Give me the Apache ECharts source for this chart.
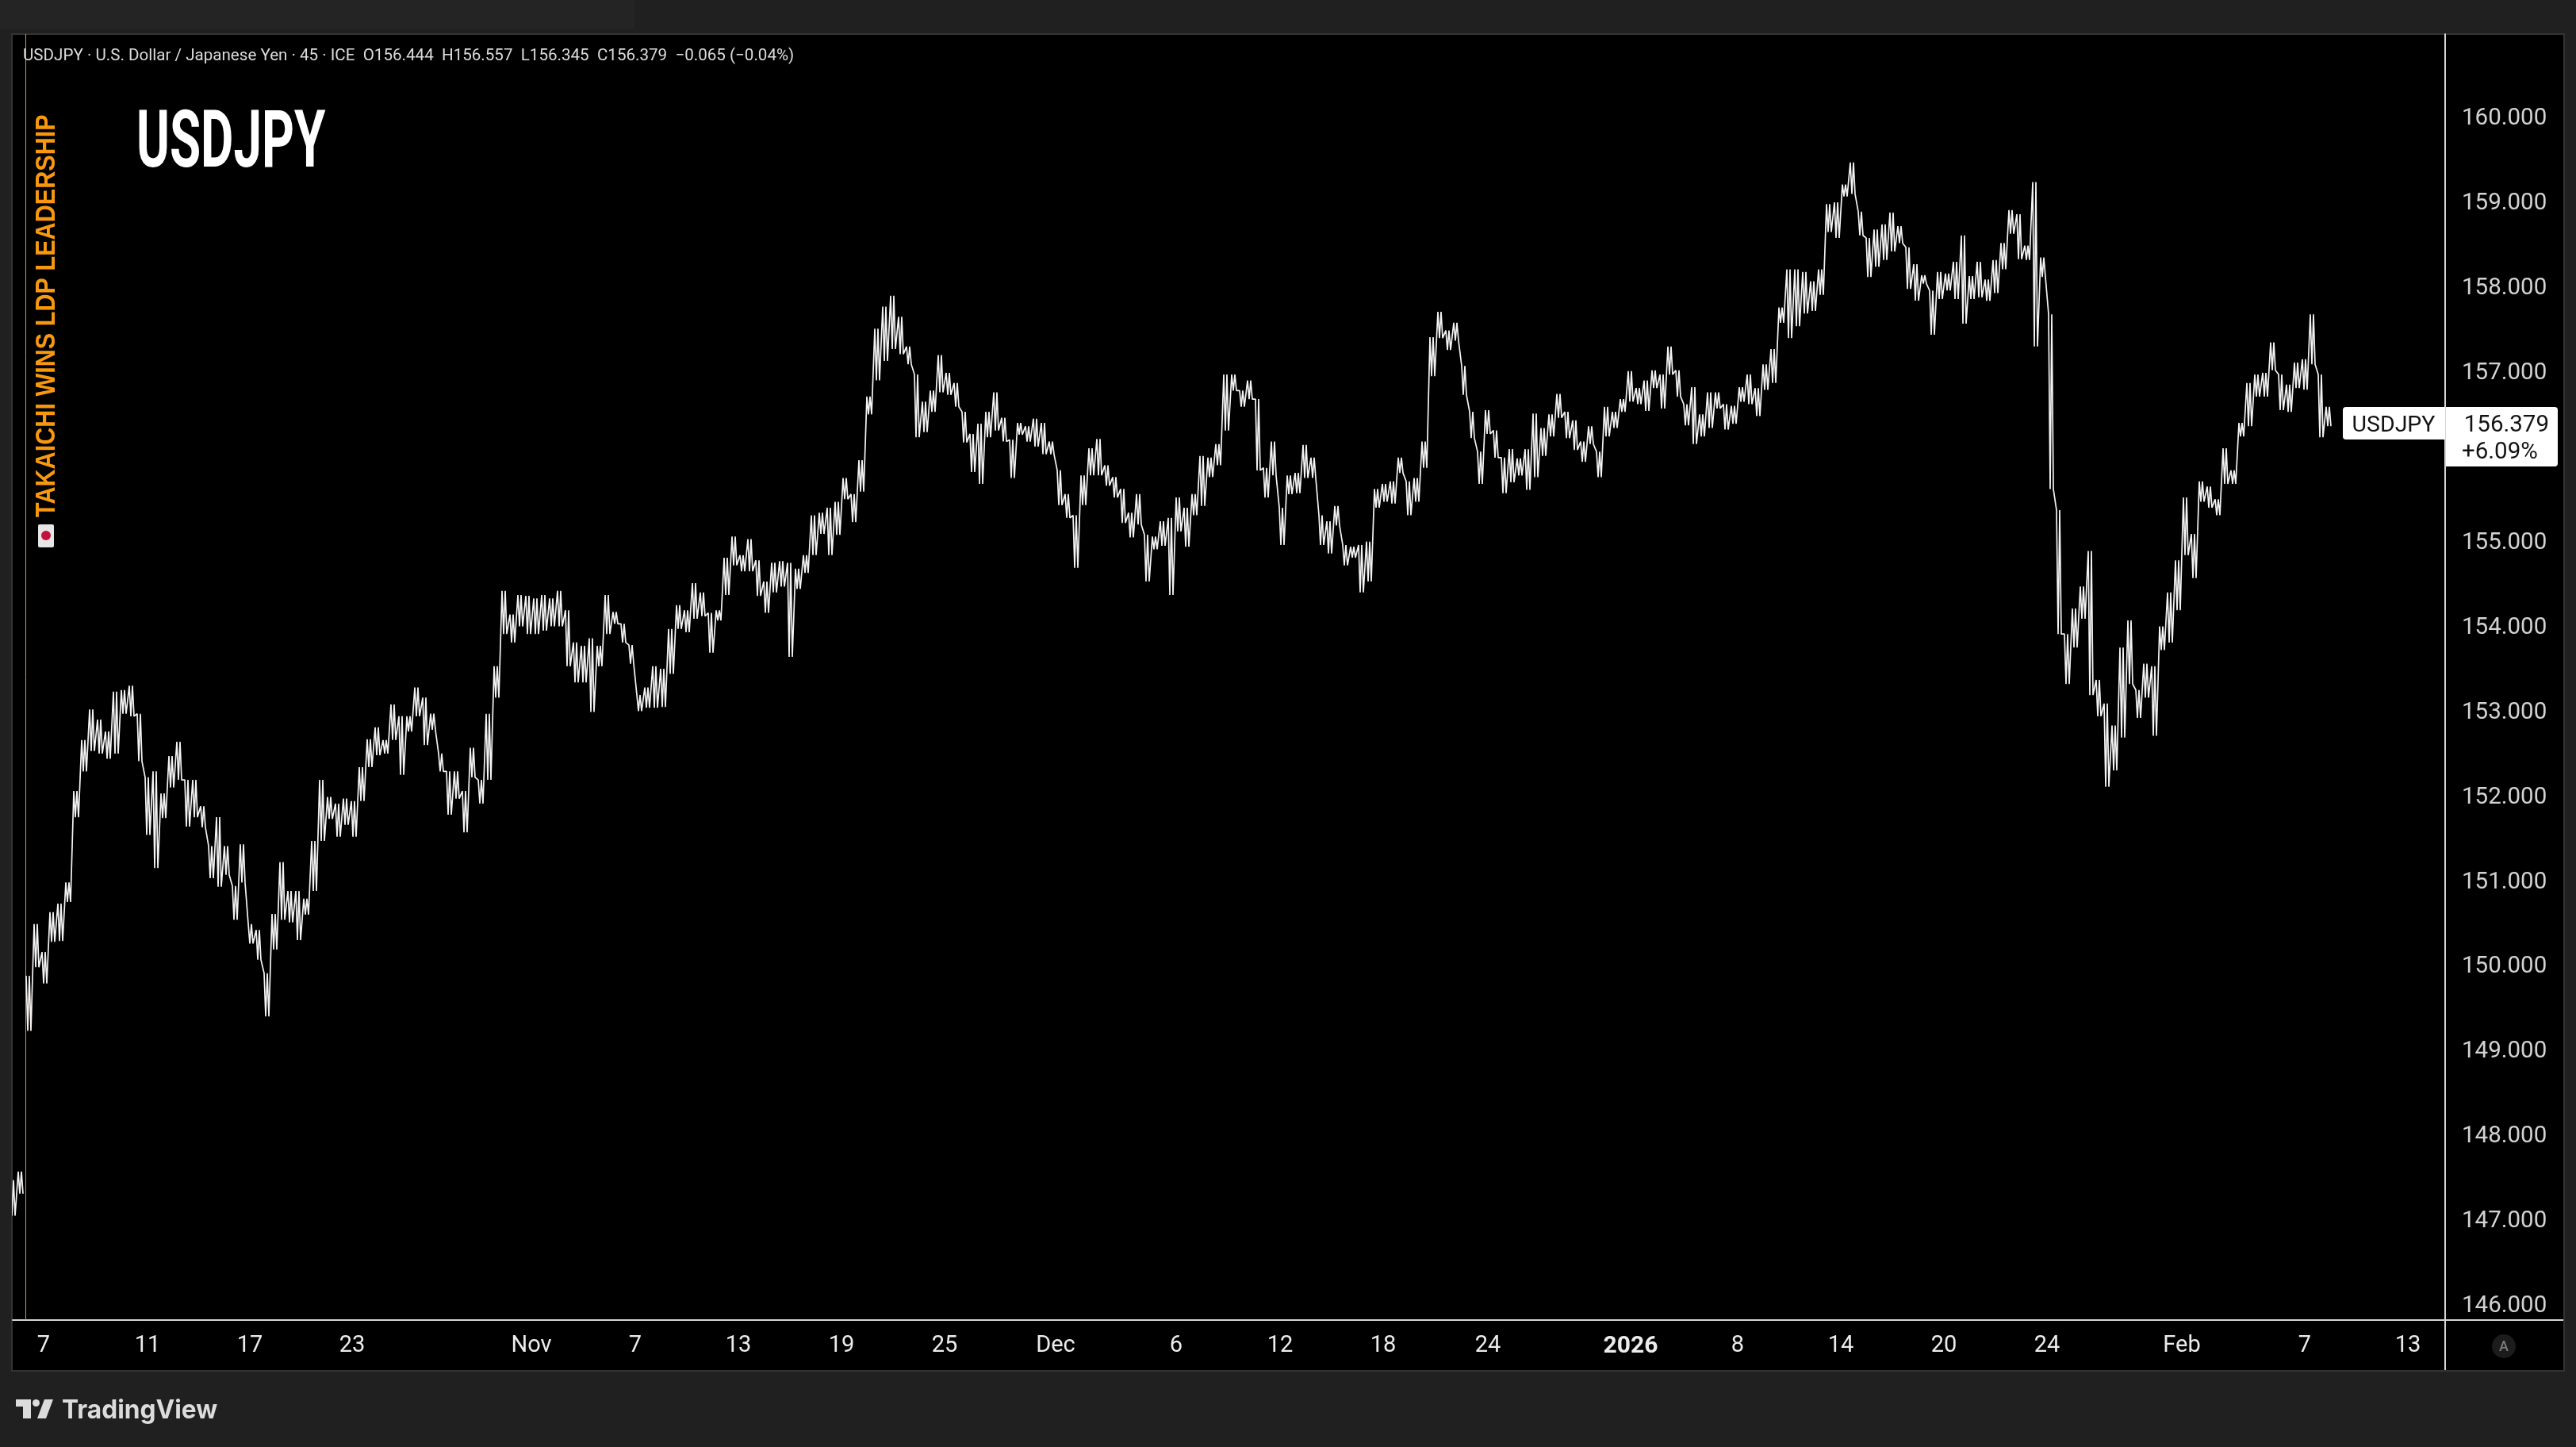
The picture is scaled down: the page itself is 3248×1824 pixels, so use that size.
<!DOCTYPE html>
<html><head><meta charset="utf-8">
<style>html,body{margin:0;padding:0;background:#202020}#c{width:3248px;height:1824px}</style>
<script src="https://cdn.jsdelivr.net/npm/echarts@6/dist/echarts.min.js"></script>
</head><body><div id="c"></div>
<script>
const periodHighs = [147.45,147.55,149.86,150.47,150.14,150.61,150.71,150.96,152.04,152.64,153.00,152.88,152.74,153.21,153.23,153.28,152.95,152.20,152.27,152.01,152.45,152.62,152.17,152.17,151.86,151.39,151.73,151.39,150.92,151.41,150.47,150.40,149.89,150.59,151.20,150.86,150.86,150.77,151.45,152.17,151.97,151.89,151.95,151.92,152.32,152.65,152.79,152.64,153.06,152.92,152.92,153.26,153.14,152.95,152.48,152.27,152.27,152.04,152.55,152.17,152.95,153.51,154.40,154.12,154.35,154.34,154.31,154.35,154.31,154.40,154.17,153.79,153.75,153.84,153.75,154.35,154.15,154.01,153.76,153.17,153.26,153.51,153.48,153.95,154.23,154.17,154.49,154.38,154.14,154.17,154.79,155.04,154.82,155.01,154.76,154.51,154.73,154.75,154.73,154.66,154.82,155.29,155.32,155.38,155.45,155.73,155.54,155.94,156.69,157.49,157.75,157.88,157.63,157.28,156.95,156.63,156.76,157.18,156.97,156.85,156.51,156.25,156.37,156.51,156.74,156.44,156.18,156.38,156.34,156.43,156.38,156.16,155.82,155.54,155.29,155.76,156.08,156.19,155.88,155.74,155.60,155.32,155.54,155.06,155.04,155.22,155.26,155.50,155.38,155.54,155.99,155.97,156.13,156.95,156.95,156.76,156.88,156.66,155.85,156.16,155.38,155.76,155.79,156.12,155.97,155.29,155.22,155.40,154.94,154.92,154.94,154.98,155.60,155.66,155.69,155.97,155.69,155.73,156.16,157.39,157.69,157.47,157.56,157.05,156.51,156.04,156.53,156.29,155.97,156.07,155.96,156.07,156.49,156.32,156.48,156.72,156.51,156.41,156.16,156.34,156.04,156.57,156.51,156.66,156.99,156.79,156.88,157.00,156.95,157.28,157.00,156.60,156.80,156.48,156.74,156.74,156.60,156.58,156.80,156.95,156.79,157.07,157.25,157.74,158.19,158.19,158.16,158.05,158.19,158.96,158.98,159.19,159.45,158.87,158.56,158.66,158.72,158.86,158.70,158.45,158.25,158.12,157.94,158.16,158.14,158.28,158.59,158.11,158.28,158.07,158.30,158.50,158.89,158.84,158.47,159.22,158.33,157.66,155.35,153.89,154.19,154.45,154.87,153.35,153.07,152.81,153.73,154.05,153.23,153.54,153.51,153.98,154.38,154.76,155.50,155.07,155.69,155.63,155.48,156.08,155.82,156.38,156.85,156.95,156.97,157.33,156.95,156.83,157.09,157.13,157.66,156.95,156.57];
const periodLows = [147.03,147.29,149.21,149.96,149.77,150.26,150.27,150.73,151.73,152.27,152.51,152.48,152.42,152.48,152.95,152.92,152.39,151.52,151.13,151.72,152.08,152.17,151.62,151.73,151.61,151.01,150.91,151.05,150.52,150.96,150.24,150.05,149.38,150.17,150.52,150.49,150.28,150.58,150.86,151.45,151.71,151.50,151.64,151.50,151.92,152.32,152.46,152.48,152.64,152.23,152.74,152.92,152.58,152.76,152.27,151.76,151.95,151.55,152.20,151.89,152.17,153.14,153.89,153.79,153.98,153.89,153.89,153.93,153.98,153.98,153.51,153.32,153.32,152.97,153.51,153.89,154.01,153.79,153.54,152.98,153.02,153.02,153.03,153.42,153.95,153.91,154.07,154.10,153.67,154.05,154.35,154.70,154.63,154.63,154.34,154.14,154.38,154.45,153.62,154.42,154.61,154.82,155.07,154.82,155.06,155.48,155.21,155.57,156.48,156.88,157.11,157.25,157.19,157.07,156.21,156.27,156.51,156.74,156.71,156.57,156.15,155.80,155.66,156.21,156.29,156.16,155.73,156.24,156.16,156.10,156.01,156.01,155.41,155.26,154.67,155.41,155.76,155.76,155.64,155.50,155.20,155.03,155.18,154.51,154.89,154.93,154.35,155.10,154.92,155.29,155.40,155.74,155.88,156.29,156.76,156.57,156.66,155.82,155.50,155.76,154.94,155.54,155.55,155.73,155.73,154.94,154.84,155.17,154.70,154.79,154.38,154.51,155.38,155.45,155.43,155.79,155.29,155.45,155.85,156.93,157.38,157.24,157.35,156.71,156.20,155.66,156.25,155.97,155.55,155.68,155.76,155.59,155.74,155.99,156.22,156.44,156.20,156.06,155.92,156.13,155.74,156.22,156.32,156.51,156.63,156.60,156.52,156.79,156.55,156.95,156.69,156.35,156.13,156.22,156.32,156.55,156.30,156.37,156.63,156.60,156.46,156.77,156.85,157.56,157.38,157.52,157.67,157.70,157.89,158.63,158.56,159.05,159.08,158.59,158.10,158.22,158.30,158.40,158.50,157.96,157.82,158.02,157.42,157.84,157.94,157.84,157.55,157.84,157.86,157.82,157.91,158.19,158.61,158.31,158.30,157.28,158.10,155.60,153.89,153.30,153.73,154.07,153.17,152.92,152.09,152.28,152.67,153.30,152.90,153.14,152.69,153.70,153.79,154.17,154.82,154.55,155.45,155.38,155.29,155.66,155.66,156.22,156.34,156.69,156.69,157.00,156.53,156.51,156.79,156.77,157.07,156.21,156.34];
const gapAfterPeriod = [1];
const priceTicks = [146,147,148,149,150,151,152,153,154,155,156,157,158,159,160];
const timeLabels = ['7','11','17','23','Nov','7','13','19','25','Dec','6','12','18','24','2026','8','14','20','24','Feb','7','13'];
const timeLabelAt = [7.8,34,59.8,85.6,130.8,157,183,209,235,263,293.4,319.6,345.6,372,408,435,461,487,513,547,578,604];
const sessionMarkerAt = 3.32;

// each reading period is drawn as fine vertical hairs between its high and low
const trace = [];
periodHighs.forEach((h, k) => {
  const l = periodLows[k], x = 2 * k;
  trace.push([x - 0.6, h], [x - 0.2, l], [x + 0.2, h], [x + 0.6, l]);
  if (gapAfterPeriod.includes(k)) trace.push([x + 0.8, null]);
});

const chart = echarts.init(document.getElementById('c'), null, {width: 3248, height: 1824, renderer: 'canvas'});
const uiFont = 'Roboto, sans-serif';
const rule = '#d6d6d6';
chart.setOption({
  animation: false,
  backgroundColor: '#202020',
  grid: {left: 16, top: 43, width: 3067, height: 1621, containLabel: false, show: false},
  xAxis: {
    type: 'value', min: 0, max: 613.4, splitLine: {show: false},
    axisLine: {show: true, lineStyle: {color: rule, width: 2}}, axisTick: {show: false},
    axisLabel: {
      customValues: timeLabelAt, margin: 18, fontFamily: uiFont, fontSize: 29, color: '#ececec', hideOverlap: false,
      showMinLabel: true, showMaxLabel: true,
      formatter: v => {
        const s = timeLabels[timeLabelAt.indexOf(v)];
        return s === '2026' ? '{b|2026}' : s;
      },
      rich: {b: {fontFamily: uiFont, fontSize: 30, fontWeight: 'bold', color: '#ececec'}}
    }
  },
  yAxis: {
    type: 'value', position: 'right', min: 145.8, max: 160.964, scale: true, splitLine: {show: false},
    axisLine: {show: true, onZero: false, lineStyle: {color: rule, width: 2}}, axisTick: {show: false},
    axisLabel: {customValues: priceTicks, margin: 21,
      formatter: v => '{p|' + v.toFixed(3) + '}',
      rich: {p: {fontFamily: uiFont, fontSize: 29.5, color: '#d2d2d2', padding: [8, 0, 0, 0]}}}
  },
  series: [{
    type: 'line', data: trace, showSymbol: false, symbol: 'none', connectNulls: false, z: 5,
    lineStyle: {color: '#f4f4f4', width: 1.7, join: 'bevel'}, silent: true,
    markLine: {silent: true, symbol: 'none', label: {show: false},
      lineStyle: {color: '#f0921e', width: 1, type: 'solid'}, data: [{xAxis: sessionMarkerAt}]}
  }],
  graphic: [
    {type: 'rect', z: -10, silent: true, shape: {x: 0, y: 0, width: 800, height: 37}, style: {fill: '#242424'}},
    {type: 'rect', z: -9, silent: true, shape: {x: 15, y: 43, width: 3218, height: 1685}, style: {fill: '#000', stroke: '#333', lineWidth: 2}},
    {type: 'line', z: 20, silent: true, shape: {x1: 3083, y1: 1664, x2: 3232, y2: 1664}, style: {stroke: rule, lineWidth: 2}},
    {type: 'line', z: 20, silent: true, shape: {x1: 3083, y1: 1664, x2: 3083, y2: 1727}, style: {stroke: rule, lineWidth: 2}},
    {type: 'text', z: 30, silent: true, x: 29, y: 71, style: {
      text: 'USDJPY · U.S. Dollar / Japanese Yen · 45 · ICE  O156.444  H156.557  L156.345  C156.379  −0.065 (−0.04%)',
      font: '400 20.6px Roboto, sans-serif', fill: '#dcdcdc', textAlign: 'left', textVerticalAlign: 'middle'}},
    {type: 'text', z: 30, silent: true, x: 172, y: 185, scaleX: 0.63, style: {
      text: 'USDJPY', font: '700 101px Roboto, sans-serif', fill: '#fff', textAlign: 'left', textVerticalAlign: 'middle'}},
    {type: 'text', z: 30, silent: true, x: 60, y: 652, rotation: Math.PI / 2, scaleY: 1.12, style: {
      text: 'TAKAICHI WINS LDP LEADERSHIP', font: 'bold 30.6px "Liberation Sans", Arial, sans-serif', fill: '#f7980f',
      textAlign: 'left', textVerticalAlign: 'middle'}},
    {type: 'rect', z: 30, silent: true, shape: {x: 48, y: 661, width: 20, height: 29, r: 2}, style: {fill: '#e6e6e6'}},
    {type: 'circle', z: 31, silent: true, shape: {cx: 58, cy: 675, r: 6}, style: {fill: '#c4123f'}},
    {type: 'rect', z: 30, silent: true, shape: {x: 2954, y: 513, width: 129, height: 41, r: [4, 0, 0, 4]}, style: {fill: '#fff'}},
    {type: 'rect', z: 30, silent: true, shape: {x: 3084, y: 513, width: 141, height: 75, r: [0, 4, 4, 0]}, style: {fill: '#fff'}},
    {type: 'text', z: 31, silent: true, x: 3018, y: 537, style: {text: 'USDJPY', font: '400 28.5px Roboto, sans-serif', fill: '#131313', textAlign: 'center', textVerticalAlign: 'middle'}},
    {type: 'text', z: 31, silent: true, x: 3214, y: 537, style: {text: '156.379', font: '400 29.5px Roboto, sans-serif', fill: '#131313', textAlign: 'right', textVerticalAlign: 'middle'}},
    {type: 'text', z: 31, silent: true, x: 3104, y: 571, style: {text: '+6.09%', font: '400 29.5px Roboto, sans-serif', fill: '#131313', textAlign: 'left', textVerticalAlign: 'middle'}},
    {type: 'circle', z: 30, silent: true, shape: {cx: 3157, cy: 1697, r: 15}, style: {fill: '#1c1c1c'}},
    {type: 'text', z: 31, silent: true, x: 3157, y: 1698, style: {text: 'A', font: '500 18px Roboto, sans-serif', fill: '#7c7c7c', textAlign: 'center', textVerticalAlign: 'middle'}},
    {type: 'polygon', z: 30, silent: true, shape: {points: [[20,1764],[39,1764],[39,1788],[29,1788],[29,1773],[20,1773]]}, style: {fill: '#dcdcdc'}},
    {type: 'circle', z: 30, silent: true, shape: {cx: 45.5, cy: 1768.5, r: 4.5}, style: {fill: '#dcdcdc'}},
    {type: 'polygon', z: 30, silent: true, shape: {points: [[56,1764],[67,1764],[58,1788],[47,1788]]}, style: {fill: '#dcdcdc'}},
    {type: 'text', z: 30, silent: true, x: 78, y: 1778, scaleX: 0.96, style: {text: 'TradingView', font: '700 33px Inter, sans-serif', fill: '#dcdcdc', textAlign: 'left', textVerticalAlign: 'middle'}}
  ]
});
</script></body></html>
